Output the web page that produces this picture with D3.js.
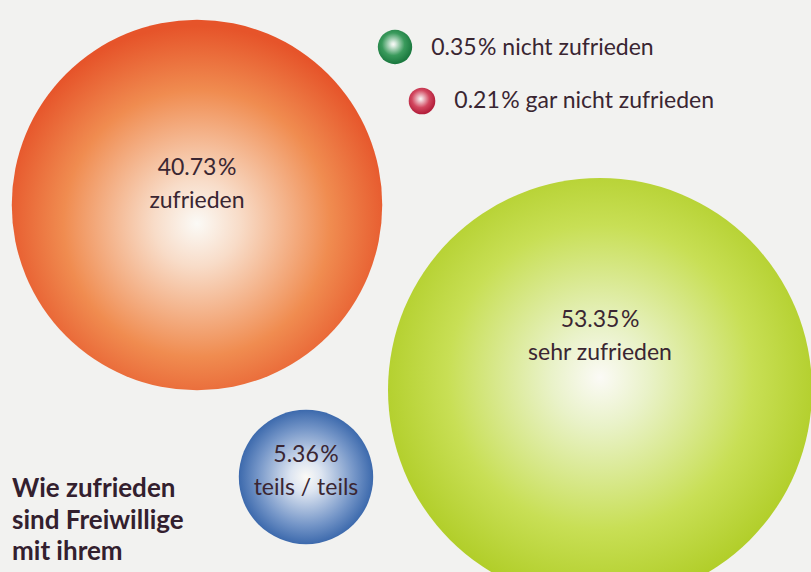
<!DOCTYPE html>
<html>
<head>
<meta charset="utf-8">
<script src="https://cdn.jsdelivr.net/npm/d3@7"></script>
<style>
  html, body { margin: 0; padding: 0; background: #f2f2f0; }
  svg { display: block; }
</style>
</head>
<body>
<div id="chart"></div>
<script>
// values
const categories = ["sehr zufrieden", "zufrieden", "teils / teils", "nicht zufrieden", "gar nicht zufrieden"];
const shares = [53.35, 40.73, 5.36, 0.35, 0.21];
const titleLines = ["Wie zufrieden", "sind Freiwillige", "mit ihrem"];

// layout: bubble centres and where the label goes
const centersX = [600, 197, 306, 395, 422];
const centersY = [390, 205, 477, 47, 101];
const labelInside = [true, true, true, false, false];
const labelFirstLine = [-63, -30, -15, 8, 7];
const highlightY = [0.47, 0.55, 0.5, 0.42, 0.42];

// colours: [edge, middle, light]
const palette = [
    ["#b0cd27", "#c8df55", "#e9f2c8"],
    ["#e6542a", "#f08c50", "#f8dcc8"],
    ["#2f5fa6", "#7596c8", "#dde5f1"],
    ["#1c7a40", "#3a9a5c", "#dfeee4"],
    ["#b4203c", "#d2475f", "#f3dade"]
];

const width = 811;
const height = 572;

const svg = d3.select("#chart")
    .append("svg")
    .attr("width", width)
    .attr("height", height);

svg.append("rect")
    .attr("width", width)
    .attr("height", height)
    .attr("fill", "#f2f2f0");

const radius = d3.scaleSqrt()
    .domain([0, d3.max(shares)])
    .range([0, 212]);

const data = categories.map((c, i) => ({
    category: c,
    share: shares[i],
    cx: centersX[i],
    cy: centersY[i],
    inside: labelInside[i],
    dy: labelFirstLine[i],
    hy: highlightY[i],
    colors: palette[i]
}));

const defs = svg.append("defs");
data.forEach((d, i) => {
    const small = !d.inside;
    const g = defs.append("radialGradient")
        .attr("id", "grad" + i)
        .attr("cx", small ? "0.45" : "0.5")
        .attr("cy", d.hy)
        .attr("r", small ? "0.6" : "0.58");
    g.append("stop").attr("offset", "0").attr("stop-color", "#fbfaf6");
    g.append("stop").attr("offset", small ? "0.1" : "0.2").attr("stop-color", d.colors[2]);
    g.append("stop").attr("offset", small ? "0.55" : "0.62").attr("stop-color", d.colors[1]);
    g.append("stop").attr("offset", "0.92").attr("stop-color", d.colors[0]);
    g.append("stop").attr("offset", "1").attr("stop-color", d.colors[0]);
});

svg.selectAll("circle.bubble")
    .data(data)
    .enter()
    .append("circle")
    .attr("class", "bubble")
    .attr("cx", d => d.cx)
    .attr("cy", d => d.cy)
    .attr("r", d => radius(d.share))
    .attr("fill", (d, i) => `url(#grad${i})`);

const fmt = v => d3.format(".2f")(v) + "\u200A%";
const textColor = "#3a2632";

// labels inside the big bubbles
svg.selectAll("text.inside")
    .data(data.filter(d => d.inside))
    .enter()
    .append("text")
    .attr("class", "inside")
    .attr("text-anchor", "middle")
    .style("font-family", "Lato, 'Noto Sans', sans-serif")
    .style("font-size", "23px")
    .attr("fill", textColor)
    .selectAll("tspan")
    .data(d => [
        { x: d.cx, y: d.cy + d.dy, label: fmt(d.share) },
        { x: d.cx, y: d.cy + d.dy + 33, label: d.category }
    ])
    .enter()
    .append("tspan")
    .attr("x", d => d.x)
    .attr("y", d => d.y)
    .text(d => d.label);

// labels next to the small dots
svg.selectAll("text.outside")
    .data(data.filter(d => !d.inside))
    .enter()
    .append("text")
    .attr("class", "outside")
    .attr("x", d => d.cx + radius(d.share) + 19)
    .attr("y", d => d.cy + d.dy)
    .style("font-family", "Lato, 'Noto Sans', sans-serif")
    .style("font-size", "23px")
    .attr("fill", textColor)
    .text(d => fmt(d.share) + " " + d.category);

// heading in the lower left corner
svg.append("text")
    .style("font-family", "Lato, 'Noto Sans', sans-serif")
    .style("font-size", "26px")
    .style("font-weight", "bold")
    .attr("fill", "#33202e")
    .selectAll("tspan")
    .data(titleLines)
    .enter()
    .append("tspan")
    .attr("x", 12)
    .attr("y", (d, i) => 497 + i * 31.5)
    .text(d => d);
</script>
</body>
</html>
